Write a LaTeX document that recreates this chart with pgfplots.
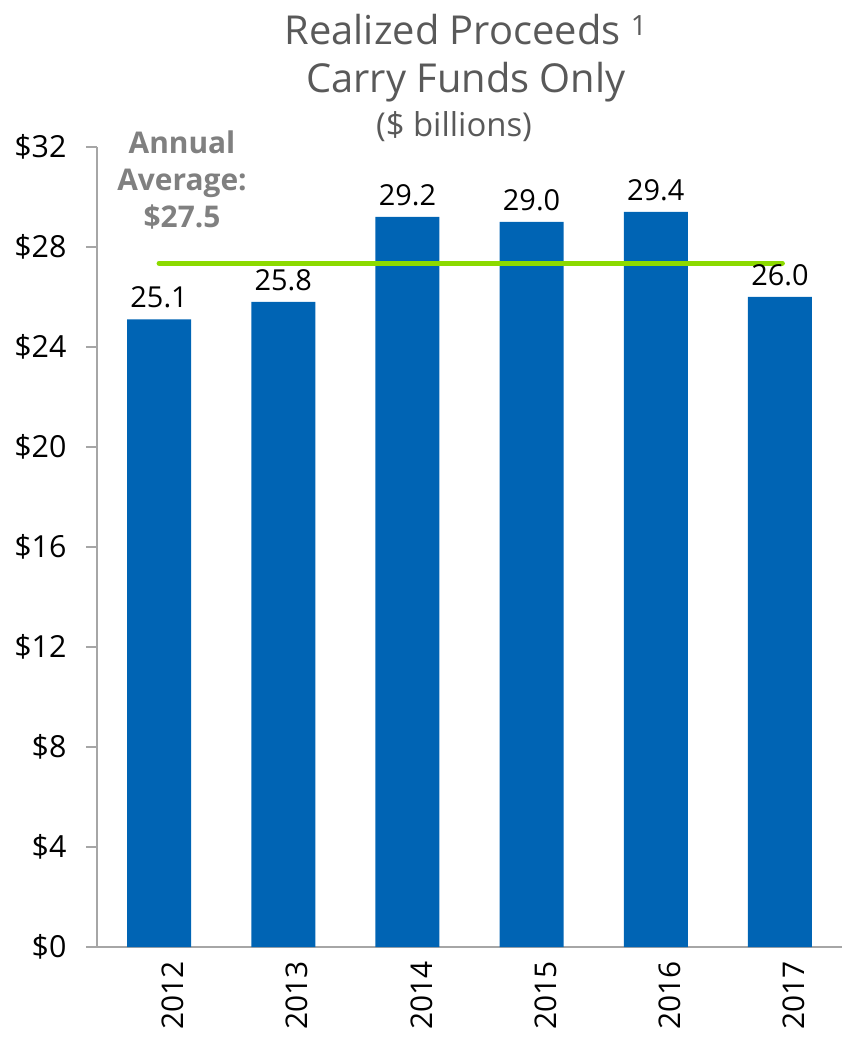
\documentclass[border=0pt]{standalone}
\usepackage{pgfplots}
\pgfplotsset{compat=1.18}
\usepackage{fontspec}
\setmainfont{Open Sans}

\definecolor{barblue}{RGB}{0,100,180}
\definecolor{avggreen}{RGB}{140,218,0}
\definecolor{axisgray}{RGB}{166,166,166}
\definecolor{titlegray}{RGB}{89,89,89}
\definecolor{notegray}{RGB}{128,128,128}

\pgfplotstableread{
x  year value
0  2012 25.1
1  2013 25.8
2  2014 29.2
3  2015 29.0
4  2016 29.4
5  2017 26.0
}\proceeds

\begin{document}
\begin{tikzpicture}
\useasboundingbox (-97bp,-92bp) rectangle (745bp,947bp);
\begin{axis}[
  at={(0,0)}, anchor=south west,
  scale only axis,
  width=745bp, height=800bp,
  xmin=-0.5, xmax=5.5,
  ymin=0, ymax=32,
  axis x line*=bottom,
  axis y line*=left,
  axis line style={draw=axisgray, line width=1.5bp},
  every tick/.style={draw=axisgray, line width=1.5bp},
  tick align=outside,
  major tick length=11bp,
  minor tick length=11bp,
  xtick={0,1,2,3,4,5},
  xticklabels={2012,2013,2014,2015,2016,2017},
  x tick style={draw=none},
  minor xtick={-0.5,0.5,1.5,2.5,3.5,4.5,5.5},
  x tick label style={rotate=90, anchor=east, yshift=-14bp, font=\fontsize{30}{34}\selectfont},
  ytick={0,4,...,32},
  yticklabel={\$\pgfmathprintnumber{\tick}},
  y tick label style={font=\fontsize{30.5}{34}\selectfont, xshift=-16bp},
  /pgf/number format/assume math mode=true,
  clip=false,
]
\addplot[ybar, bar width=64bp, fill=barblue, draw=none,
  nodes near coords,
  nodes near coords style={font=\fontsize{29}{34}\selectfont, black, yshift=8bp,
    /pgf/number format/.cd, fixed, fixed zerofill, precision=1, assume math mode=true},
] table[x=x, y=value] {\proceeds};
\addplot[avggreen, line width=5bp, line cap=round] coordinates {(0,27.35) (5.02,27.35)};
\end{axis}
\node[font=\fontsize{40}{46}\selectfont, text=titlegray] at (369bp,917bp) {Realized Proceeds \textsuperscript{1}};
\node[font=\fontsize{40}{46}\selectfont, text=titlegray] at (369bp,865bp) {Carry Funds Only};
\node[font=\fontsize{33}{38}\selectfont, text=titlegray] at (357bp,820bp) {(\$ billions)};
\node[font=\fontsize{30}{37}\selectfont\bfseries, text=notegray, align=center] at (85bp,767bp) {Annual\\Average:\\\$27.5};
\end{tikzpicture}
\end{document}
